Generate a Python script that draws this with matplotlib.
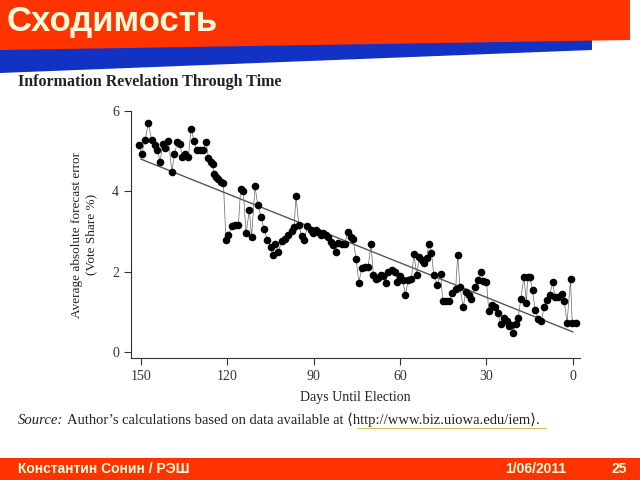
import matplotlib
matplotlib.use("Agg")
import matplotlib.pyplot as plt
import numpy as np
from matplotlib.patches import Polygon, Rectangle

# data: days until election and forecast error
days = [150.6, 149.8, 148.6, 147.5, 146.3, 145.1, 144.3, 143.4, 142.5, 141.7,
        140.5, 139.3, 138.4, 137.4, 136.5, 135.7, 134.7, 133.6, 132.6, 131.6,
        130.7, 129.5, 128.4, 127.4, 126.6, 125.8, 125.1, 124.7, 124.0, 123.2,
        122.3, 121.4, 120.5, 119.7, 118.5, 117.4, 116.2, 115.4, 114.5, 113.5,
        112.4, 111.6, 110.4, 109.5, 108.3, 107.3, 106.1, 105.0, 104.3, 103.3,
        102.3, 101.1, 100.0, 98.9, 97.7, 96.8, 96.2, 95.2, 94.2, 93.3,
        92.2, 91.1, 90.2, 89.2, 88.4, 87.5, 86.7, 85.8, 85.0, 84.0,
        83.2, 82.3, 81.5, 80.3, 79.2, 78.2, 77.2, 76.3, 75.3, 74.3,
        73.4, 72.2, 71.1, 70.1, 69.3, 68.4, 67.6, 66.7, 65.9, 65.0,
        64.1, 62.9, 61.8, 61.0, 60.1, 59.1, 58.2, 57.2, 56.1, 55.2,
        54.2, 53.4, 52.5, 51.7, 50.8, 50.0, 49.1, 48.3, 47.1, 45.9,
        45.2, 44.1, 42.9, 41.8, 40.7, 40.0, 39.2, 38.1, 37.2, 36.1,
        35.2, 34.0, 33.1, 32.0, 31.1, 30.0, 29.2, 28.2, 27.1, 26.1,
        25.1, 24.0, 23.0, 22.2, 21.3, 20.7, 19.9, 19.0, 18.1, 17.0,
        16.1, 15.7, 14.9, 14.0, 13.1, 12.0, 10.9, 10.0, 8.9, 8.0,
        7.0, 6.2, 5.1, 3.9, 3.0, 2.0, 0.8, 0.2, -1.0]
error = [5.15, 4.93, 5.27, 5.71, 5.27, 5.15, 5.04, 4.73, 5.17, 5.07,
         5.26, 4.49, 4.92, 5.23, 5.17, 4.86, 4.93, 4.86, 5.55, 5.26,
         5.02, 5.02, 5.02, 5.22, 4.84, 4.73, 4.68, 4.43, 4.36, 4.30,
         4.24, 4.20, 2.79, 2.91, 3.13, 3.16, 3.16, 4.05, 4.01, 2.95,
         3.53, 2.87, 4.13, 3.66, 3.37, 3.05, 2.80, 2.62, 2.41, 2.68,
         2.50, 2.76, 2.82, 2.92, 3.01, 3.12, 3.88, 3.17, 2.88, 2.80,
         3.13, 3.03, 2.96, 3.03, 2.99, 2.91, 2.95, 2.91, 2.87, 2.74,
         2.66, 2.50, 2.72, 2.69, 2.69, 2.99, 2.87, 2.81, 2.31, 1.72,
         2.08, 2.11, 2.12, 2.69, 1.92, 1.81, 1.83, 1.92, 1.89, 1.72,
         2.00, 2.04, 2.00, 1.75, 1.89, 1.79, 1.42, 1.78, 1.81, 2.44,
         1.92, 2.36, 2.29, 2.21, 2.33, 2.70, 2.46, 1.92, 1.67, 1.94,
         1.28, 1.28, 1.28, 1.46, 1.58, 2.41, 1.62, 1.11, 1.50, 1.42,
         1.33, 1.62, 1.79, 1.98, 1.77, 1.75, 1.03, 1.17, 1.11, 0.98,
         0.70, 0.84, 0.78, 0.65, 0.67, 0.48, 0.70, 0.85, 1.31, 1.86,
         1.23, 1.86, 1.86, 1.54, 1.04, 0.81, 0.78, 1.11, 1.29, 1.42,
         1.73, 1.38, 1.38, 1.44, 1.27, 0.73, 1.81, 0.73, 0.71]

trend_days = [150, 0]
trend_vals = [4.8, 0.5]

x_ticks = [150, 120, 90, 60, 30, 0]
y_ticks = [0, 2, 4, 6]

RED = "#ff3300"
BLUE = "#1232c4"
CREAM = "#fffbd8"
SERIF = ["Liberation Serif", "DejaVu Serif"]

fig = plt.figure(figsize=(6.4, 4.8), dpi=100)

# slide decoration in pixel coordinates
bg = fig.add_axes([0, 0, 1, 1])
bg.set_xlim(0, 640)
bg.set_ylim(480, 0)
bg.axis("off")
bg.add_patch(Polygon([(0, 44), (592, 38), (592, 50), (0, 73)],
                     closed=True, color=BLUE, lw=0))
bg.add_patch(Polygon([(0, 0), (630, 0), (630, 40), (0, 50)],
                     closed=True, color=RED, lw=0))
bg.add_patch(Rectangle((0, 458), 640, 22, color=RED, lw=0))
bg.text(7, 22, "Сходимость", color=CREAM, fontsize=25, fontweight="bold",
        family="Liberation Sans", va="center", ha="left")
bg.text(18, 82, "Information Revelation Through Time", fontsize=11.5,
        fontweight="bold", family=SERIF, color="#222222", va="center")
bg.text(18, 420, "Source:", fontsize=10.5, style="italic", family=SERIF,
        color="#222222", va="center")
bg.text(67, 420, "Author’s calculations based on data available at "
        "⟨http://www.biz.uiowa.edu/iem⟩.", fontsize=10.5, family=SERIF,
        color="#222222", va="center")
bg.plot([358, 546], [428, 428], color="#d8c060", lw=0.8)
bg.text(18, 469, "Константин Сонин / РЭШ", color=CREAM, fontsize=10,
        fontweight="bold", family="Liberation Sans", va="center")
bg.text(505, 469, "1/06/2011", color=CREAM, fontsize=10, fontweight="bold",
        family="Liberation Sans", va="center")
bg.text(612, 469, "25", color=CREAM, fontsize=10, fontweight="bold",
        family="Liberation Sans", va="center")

# the chart itself
ax = fig.add_axes([131 / 640, (480 - 358) / 480, 449 / 640, 247 / 480])
ax.plot(trend_days, trend_vals, color="#555555", lw=1.0, zorder=2)
ax.plot(days, error, color="#666666", lw=0.5, zorder=3)
ax.scatter(days, error, s=30, color="black", zorder=4, lw=0)
ax.set_xlim(153.5, -2.5)
ax.set_ylim(-0.15, 6)
ax.set_xticks(x_ticks)
ax.set_yticks(y_ticks)
for s in ["top", "right"]:
    ax.spines[s].set_visible(False)
for s in ["left", "bottom"]:
    ax.spines[s].set_linewidth(0.8)
    ax.spines[s].set_color("#333333")
ax.tick_params(direction="out", length=5, width=0.8, colors="#333333",
               labelsize=10)
for lab in ax.get_xticklabels() + ax.get_yticklabels():
    lab.set_family(SERIF)
ax.set_xlabel("Days Until Election", family=SERIF, fontsize=10,
              color="#222222", labelpad=6)
ax.set_ylabel("Average absolute forecast error\n(Vote Share %)", family=SERIF,
              fontsize=9.5, color="#222222", labelpad=11)
ax.patch.set_alpha(0)

fig.savefig("out.png", dpi=100)
